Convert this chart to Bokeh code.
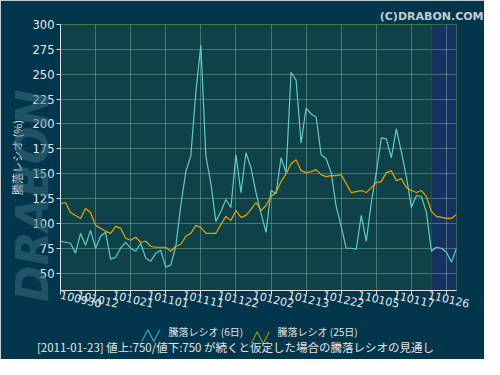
from bokeh.plotting import figure
from bokeh.models import (Range1d, FixedTicker, BoxAnnotation, Span,
                          ColumnDataSource, LinearAxis)
from bokeh.embed import file_html
from bokeh.resources import INLINE

# ---------------- data ----------------
tick_index = [0, 7, 14, 21, 28, 35, 42, 49, 56, 63, 70, 77]
tick_labels = ["100930", "101012", "101021", "101101", "101111", "101122",
               "101202", "101213", "101222", "110105", "110117", "110126"]
day_index = list(range(80))
ratio_6 = [82, 81, 80, 70, 90, 78, 93, 75, 87, 91,
           64, 66, 75, 81, 75, 72, 80, 65, 62, 70,
           73, 56, 58, 77, 118, 152, 168, 232, 279, 168,
           140, 102, 112, 124, 116, 169, 131, 171, 156, 131,
           110, 91, 133, 130, 166, 151, 252, 244, 181, 216,
           210, 207, 169, 165, 151, 117, 97, 75, 75, 74,
           108, 82, 121, 151, 186, 185, 166, 195, 172, 147,
           116, 128, 127, 111, 72, 76, 75, 71, 61, 75]
ratio_25 = [120, 121, 111, 108, 105, 115, 111, 98, 95, 92,
            90, 97, 95, 85, 83, 86, 81, 82, 77, 76,
            76, 76, 72, 77, 79, 87, 90, 98, 96, 90,
            90, 90, 99, 107, 103, 113, 106, 108, 114, 121,
            113, 118, 127, 131, 142, 150, 160, 164, 153, 151,
            152, 154, 149, 147, 148, 148, 149, 140, 131, 132,
            133, 131, 136, 141, 142, 151, 153, 143, 145, 136,
            133, 131, 133, 127, 112, 107, 106, 105, 105, 109]
y_ticks = [50, 75, 100, 125, 150, 175, 200, 225, 250, 275, 300]
projection_start = 74
projection_end = 79
series_names = ["騰落レシオ (6日)", "騰落レシオ (25日)"]
note_text = "[2011-01-23] 値上:750/値下:750 が続くと仮定した場合の騰落レシオの見通し"

BG = "#01364c"
C6 = "#62ccc8"
C25 = "#e6a400"
TXT = "#e2e2e2"

# ---------------- figure ----------------
W, H = 484, 359
X0, X1 = 0, 79
p = figure(width=W, height=H, output_backend="svg", toolbar_location=None,
           x_range=Range1d(X0, X1), y_range=Range1d(32.5, 300),
           title="(C)DRABON.COM",
           min_border_left=60, min_border_right=28, min_border_top=24,
           min_border_bottom=69)
p.title.align = "right"
p.title.offset = -27
p.title.standoff = 0
p.title.vertical_align = "top"
p.title.text_font = "DejaVu Sans"
p.title.text_font_style = "bold"
p.title.text_font_size = "11px"
p.title.text_color = "#c8cccc"
p.border_fill_color = BG
p.background_fill_color = "#0f4248"
p.outline_line_color = "#3f7a4f"

p.add_layout(BoxAnnotation(left=projection_start, right=projection_end,
                           fill_color="#16335f", fill_alpha=1.0, line_alpha=0,
                           level="image"))
p.add_layout(Span(location=projection_start, dimension="height",
                  line_color="#1d5a3c", line_width=1, level="underlay"))

for g in (p.xgrid, p.ygrid):
    g.grid_line_color = "#a8d8c8"
    g.grid_line_alpha = 0.35
    g.grid_line_width = 1

# main axes (configured before extra axes are added)
p.xaxis.ticker = FixedTicker(ticks=tick_index)
p.xaxis.major_label_overrides = {i: "" for i in tick_index}
p.xaxis.major_label_text_font_size = "1px"
p.xaxis.major_label_standoff = 0
p.yaxis.ticker = FixedTicker(ticks=y_ticks)
for ax in (p.xaxis, p.yaxis):
    ax.axis_line_color = "#e0e0e0"
    ax.major_tick_line_color = "#e0e0e0"
    ax.minor_tick_line_color = None
    ax.major_tick_in = 0
    ax.major_tick_out = 4
    ax.major_label_text_color = "#e8e8e8"
    ax.major_label_text_font = "DejaVu Sans"
p.yaxis.major_label_text_font_size = "11.5px"
p.yaxis.major_label_standoff = 2
p.yaxis.axis_label = "騰落レシオ (%)"
p.yaxis.axis_label_text_font = "Noto Sans CJK JP"
p.yaxis.axis_label_text_font_style = "normal"
p.yaxis.axis_label_text_font_size = "11px"
p.yaxis.axis_label_text_color = TXT
p.yaxis.axis_label_standoff = 5


def text_axis(ticks, labels, font, size, color, standoff, **kw):
    return LinearAxis(ticker=FixedTicker(ticks=ticks),
                      major_label_overrides=dict(zip(ticks, labels)),
                      axis_line_color=None, major_tick_line_color=None,
                      minor_tick_line_color=None, major_tick_in=0, major_tick_out=0,
                      major_label_text_font=font, major_label_text_font_size=size,
                      major_label_text_color=color, major_label_standoff=standoff,
                      **kw)


# slanted date labels centred under their ticks (anchor moved left ~3.6 days)
lab_pos = [max(X0, round(i - 3.6, 1)) for i in tick_index]
p.add_layout(text_axis(lab_pos, tick_labels, "DejaVu Sans", "11px", "#e8e8e8", 0,
                       major_label_orientation=-0.23), "below")

# legend row: names, then the two coloured zig-zag keys
p.add_layout(text_axis([29.0, 51.3], series_names, "Noto Sans CJK JP", "10px",
                       TXT, 9), "below")
p.add_layout(text_axis([18.0], ["╱╲╱"], "DejaVu Sans", "10px", C6, -12), "below")
p.add_layout(text_axis([39.8], ["╱╲╱"], "DejaVu Sans", "10px", C25, -12), "below")

# bottom note as an axis label (ideographic spaces shift it to the left)
p.add_layout(text_axis([1.0], [""], "DejaVu Sans", "1px", TXT, 0,
                       axis_label=note_text + "\u3000" * 4,
                       axis_label_text_font="Noto Sans CJK JP",
                       axis_label_text_font_size="11.5px",
                       axis_label_text_font_style="normal",
                       axis_label_text_color="#e6e6e6", axis_label_standoff=-7),
             "below")

# watermark as an extra left axis label (trailing spaces push it downwards)
p.add_layout(text_axis([100], [""], "DejaVu Sans", "1px", TXT, 0,
                       axis_label="DRABON" + "\u00a0" * 5,
                       axis_label_text_font="DejaVu Sans",
                       axis_label_text_font_style="bold italic",
                       axis_label_text_font_size="44px",
                       axis_label_text_color="#3a7080", axis_label_text_alpha=0.55,
                       axis_label_standoff=-52), "left")

src = ColumnDataSource(dict(x=day_index, r6=ratio_6, r25=ratio_25))
p.line("x", "r6", source=src, line_color=C6, line_width=1.2)
p.line("x", "r25", source=src, line_color=C25, line_width=1.2)

open("out.html", "w").write(file_html(p, INLINE))
